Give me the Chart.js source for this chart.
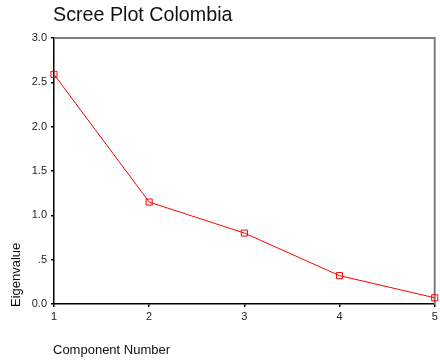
<!DOCTYPE html>
<html>
<head>
<meta charset="utf-8">
<script src="https://cdn.jsdelivr.net/npm/chart.js@4/dist/chart.umd.min.js"></script>
<style>
  html, body { margin: 0; padding: 0; background: #ffffff; }
  #wrap { width: 440px; height: 363px; }
</style>
</head>
<body>
<div id="wrap"><canvas id="c" width="440" height="363"></canvas></div>
<script>
const chartTitle = 'Scree Plot Colombia';
const xAxisTitle = 'Component Number';
const yAxisTitle = 'Eigenvalue';
const components = [1, 2, 3, 4, 5];
const eigenvalues = [2.59, 1.15, 0.80, 0.32, 0.07];
const xTickLabels = ['1', '2', '3', '4', '5'];
const yTickValues = [0, 0.5, 1.0, 1.5, 2.0, 2.5, 3.0];
const yTickLabels = ['0.0', '.5', '1.0', '1.5', '2.0', '2.5', '3.0'];

const FONT = '"Liberation Sans", Arial, Helvetica, sans-serif';

const textPlugin = {
  id: 'spssText',
  beforeDatasetsDraw(chart) {
    const { ctx, chartArea } = chart;
    ctx.save();
    ctx.strokeStyle = '#7f7f7f';
    ctx.lineWidth = 2;
    ctx.beginPath();
    ctx.moveTo(chartArea.left, chartArea.top);
    ctx.lineTo(chartArea.right, chartArea.top);
    ctx.lineTo(chartArea.right, chartArea.bottom);
    ctx.stroke();
    ctx.restore();
  },
  afterDraw(chart) {
    const { ctx, chartArea } = chart;
    ctx.save();
    ctx.fillStyle = '#111111';
    ctx.textBaseline = 'alphabetic';
    ctx.textAlign = 'left';
    ctx.font = '19.7px ' + FONT;
    ctx.fillText(chartTitle, chartArea.left - 1, 21);
    ctx.font = '13px ' + FONT;
    ctx.fillText(xAxisTitle, chartArea.left - 1, 354);
    ctx.translate(20, 307);
    ctx.rotate(-Math.PI / 2);
    ctx.fillText(yAxisTitle, 0, 0);
    ctx.restore();
  }
};

new Chart(document.getElementById('c'), {
  type: 'line',
  data: {
    labels: components,
    datasets: [{
      data: components.map((c, i) => ({ x: c, y: eigenvalues[i] })),
      borderColor: '#ff0000',
      borderWidth: 1,
      pointStyle: 'rect',
      pointRadius: 4.3,
      pointBorderColor: '#ff0000',
      pointBackgroundColor: 'rgba(255,255,255,0)',
      pointBorderWidth: 1,
      tension: 0,
      clip: false
    }]
  },
  options: {
    responsive: false,
    animation: false,
    devicePixelRatio: 1,
    layout: { padding: { top: 38, right: 4, left: 0, bottom: 0 } },
    plugins: { legend: { display: false }, title: { display: false }, tooltip: { enabled: false } },
    scales: {
      x: {
        type: 'linear',
        min: 1,
        max: 5,
        afterFit(scale) { scale.height = 59; scale.paddingRight = 0; scale.paddingLeft = 0; },
        afterBuildTicks(scale) { scale.ticks = components.map(v => ({ value: v })); },
        ticks: {
          callback: (v, i) => xTickLabels[i],
          font: { family: FONT, size: 11 },
          color: '#222222',
          padding: 3,
          maxRotation: 0
        },
        grid: { display: true, drawOnChartArea: false, drawTicks: true, tickLength: 3, color: '#000000', lineWidth: 1.5 },
        border: { display: true, color: '#000000', width: 1.5 }
      },
      y: {
        min: 0,
        max: 3,
        afterFit(scale) { scale.width = 54; scale.paddingTop = 0; scale.paddingBottom = 0; },
        afterBuildTicks(scale) { scale.ticks = yTickValues.map(v => ({ value: v })); },
        ticks: {
          callback: (v, i) => yTickLabels[i],
          font: { family: FONT, size: 11 },
          color: '#222222',
          padding: 4
        },
        grid: { display: true, drawOnChartArea: false, drawTicks: true, tickLength: 3, color: '#000000', lineWidth: 1.5 },
        border: { display: true, color: '#000000', width: 1.5 }
      }
    }
  },
  plugins: [textPlugin]
});
</script>
</body>
</html>
